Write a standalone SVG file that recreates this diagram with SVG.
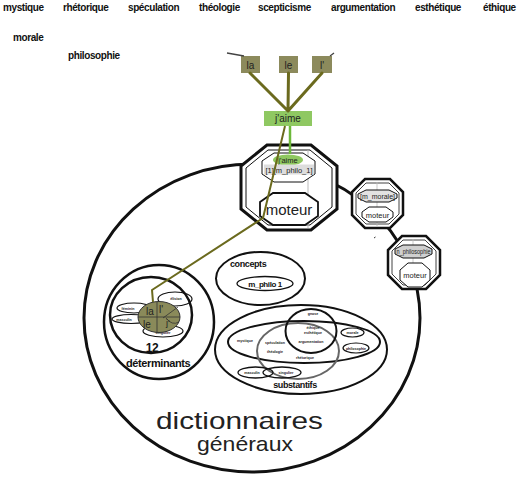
<svg xmlns="http://www.w3.org/2000/svg" width="520" height="479" viewBox="0 0 520 479">
<style>
.b{font-family:"Liberation Sans",Arial,sans-serif;font-weight:bold;letter-spacing:-0.4px;fill:#111}
.r{font-family:"Liberation Sans",Arial,sans-serif;fill:#222}
.t{font-family:"Liberation Sans",Arial,sans-serif;font-weight:bold;font-size:3.6px;fill:#222;text-anchor:middle}
.k{fill:none;stroke:#111}
.w{fill:#fff;stroke:#111}
.ol{fill:none;stroke:#6b6a1e;stroke-width:3;stroke-linecap:round;stroke-linejoin:round}
.box{fill:#8c8a5c}
</style>
<rect width="520" height="479" fill="#fff"/>
<g id="top-words" class="b" font-size="10">
<text x="3" y="11">mystique</text>
<text x="63" y="11">rhétorique</text>
<text x="128" y="11">spéculation</text>
<text x="199" y="11">théologie</text>
<text x="258" y="11">scepticisme</text>
<text x="331" y="11">argumentation</text>
<text x="415" y="11">esthétique</text>
<text x="483" y="11">éthique</text>
<text x="13" y="41">morale</text>
<text x="68" y="59">philosophie</text>
</g>
<g id="dictionnaires">
<ellipse cx="252" cy="318" rx="168" ry="154" class="k" stroke-width="3"/>
<text x="156" y="429" class="r" font-size="24" fill="#111" textLength="167" lengthAdjust="spacingAndGlyphs">dictionnaires</text>
<text x="245" y="451" class="r" font-size="21" fill="#111" text-anchor="middle" textLength="96" lengthAdjust="spacingAndGlyphs">généraux</text>
</g>
<g id="determinants">
<ellipse cx="159" cy="322" rx="55" ry="57" class="k" stroke-width="2.5"/>
<ellipse cx="151" cy="315" rx="41" ry="38" class="k" stroke-width="2.5"/>
<ellipse cx="175" cy="299" rx="17" ry="7" class="k" stroke-width="1.2"/>
<ellipse cx="134" cy="308" rx="17" ry="5" class="k" stroke-width="1.2"/>
<ellipse cx="131" cy="319" rx="19" ry="4.5" class="k" stroke-width="1.2"/>
<ellipse cx="163" cy="331" rx="20" ry="6" class="k" stroke-width="1.2"/>
<text x="176" y="299.5" class="t">élision</text>
<text x="128" y="309.5" class="t">féminin</text>
<text x="124" y="320.5" class="t">masculin</text>
<text x="163" y="334" class="t">singulier</text>
<ellipse cx="159" cy="317" rx="21" ry="15.5" fill="#8a8a5a" stroke="#333" stroke-width="1"/>
<path d="M157,302 V333 M138,317 H180 M163,318 L178,307 M166,318 Q172,326 179,322" fill="none" stroke="#333" stroke-width="0.8"/>
<text x="146" y="315" class="r" font-size="10" fill="#222">la</text>
<text x="159" y="313" class="r" font-size="10" fill="#222">l'</text>
<text x="143" y="328" class="r" font-size="10" fill="#222">le</text>
<text x="166" y="326" class="r" font-size="9" fill="#222">j'</text>
<text x="152" y="352" class="b" font-size="12" text-anchor="middle">12</text>
<text x="126" y="367" class="b" font-size="11">déterminants</text>
</g>
<g id="concepts">
<ellipse cx="260.5" cy="278.5" rx="44.5" ry="26.5" class="k" stroke-width="2"/>
<text x="230" y="267" class="b" font-size="9">concepts</text>
<ellipse cx="265" cy="283.5" rx="28" ry="7" class="k" stroke-width="1.3"/>
<text x="265" y="286.5" class="b" font-size="8" text-anchor="middle" letter-spacing="-0.3">m_philo 1</text>
</g>
<g id="substantifs">
<ellipse cx="301" cy="349.5" rx="86" ry="44.5" class="k" stroke-width="2"/>
<ellipse cx="304" cy="342" rx="76" ry="21" class="k" stroke-width="2"/>
<ellipse cx="298" cy="351" rx="41" ry="28" fill="none" stroke="#666" stroke-width="2"/>
<ellipse cx="311" cy="331" rx="25.5" ry="22" class="k" stroke-width="2"/>
<ellipse cx="352.5" cy="332.5" rx="11.5" ry="4.5" class="k" stroke-width="1.2"/>
<ellipse cx="356" cy="348" rx="13" ry="5" class="k" stroke-width="1.2"/>
<ellipse cx="255.5" cy="372.5" rx="17.5" ry="5.5" class="k" stroke-width="1.3"/>
<ellipse cx="282" cy="372.5" rx="19" ry="5.5" class="k" stroke-width="1.3"/>
<text x="313" y="315" class="t">gnose</text>
<text x="313" y="328.5" class="t">éthique</text>
<text x="313" y="333.5" class="t">esthétique</text>
<text x="311" y="343" class="t">argumentation</text>
<text x="275" y="344" class="t">spéculation</text>
<text x="275" y="353" class="t">théologie</text>
<text x="305" y="359" class="t">rhétorique</text>
<text x="245" y="342" class="t">mystique</text>
<text x="352.5" y="334" class="t">morale</text>
<text x="356" y="349.5" class="t">philosophie</text>
<text x="252" y="374" class="t">masculin</text>
<text x="286" y="374" class="t">singulier</text>
<text x="295" y="388" class="b" font-size="9" text-anchor="middle">substantifs</text>
</g>
<g id="moteur-main">
<polygon points="267,145 311,145 337,166 337,209 311,230 267,230 241,209 241,166" class="w" stroke-width="3"/>
<polygon points="268,150 310,150 332,168 332,207 310,225 268,225 246,207 246,168" class="k" stroke-width="1"/>
<line x1="308" y1="150" x2="308" y2="228" stroke="#bbb" stroke-width="1"/>
<polygon points="274,153 303,153 315,161 315,174 303,182 274,182 262,174 262,161" class="w" stroke-width="1"/>
<ellipse cx="288" cy="160" rx="15" ry="5.5" fill="#8fc860"/>
<text x="288" y="162.5" class="r" font-size="7.5" text-anchor="middle" fill="#333">j'aime</text>
<rect x="264" y="164.5" width="50" height="10" fill="#ddd"/>
<text x="289" y="172.5" class="r" font-size="7.5" text-anchor="middle" fill="#333">[1][m_philo_1]</text>
<polygon points="273,193 305,193 318,202 318,216 305,225 273,225 260,216 260,202" class="w" stroke-width="1.8"/>
<text x="289" y="215" class="r" font-size="15" text-anchor="middle" fill="#111">moteur</text>
</g>
<g id="moteur-morale">
<polygon points="365,179 390,179 403,192 403,215 390,228 365,228 352,215 352,192" class="w" stroke-width="2.5"/>
<polygon points="366,183 389,183 399,193 399,214 389,224 366,224 356,214 356,193" class="k" stroke-width="0.8"/>
<line x1="377" y1="182" x2="377" y2="226" stroke="#bbb" stroke-width="0.8"/>
<polygon points="366,190 389,190 397,194 397,198 389,202 366,202 358,198 358,194" fill="#e2e2e2" stroke="#111" stroke-width="1"/>
<text x="377.5" y="198.5" class="r" font-size="7" text-anchor="middle" fill="#333">[m_morale]</text>
<polygon points="369,207 386,207 393,212 393,217 386,222 369,222 362,217 362,212" class="w" stroke-width="1"/>
<text x="377.5" y="217.5" class="r" font-size="7.5" text-anchor="middle" fill="#333">moteur</text>
</g>
<g id="moteur-philosophie">
<polygon points="402,236 426,236 440,250 440,275 426,289 402,289 388,275 388,250" class="w" stroke-width="2.5"/>
<polygon points="403,240 425,240 436,251 436,274 425,285 403,285 392,274 392,251" class="k" stroke-width="0.8"/>
<line x1="413" y1="239" x2="413" y2="287" stroke="#bbb" stroke-width="0.8"/>
<polygon points="403,245 424,245 432,249 432,254 424,258 403,258 395,254 395,249" fill="#d0d0d0" stroke="#111" stroke-width="1"/>
<text x="413.5" y="254" class="r" font-size="6.5" text-anchor="middle" fill="#333" textLength="34" lengthAdjust="spacingAndGlyphs">n_philosophie</text>
<polygon points="408,263 422,263 430,270 430,280 422,287 408,287 400,280 400,270" class="w" stroke-width="1"/>
<text x="415" y="278" class="r" font-size="7.5" text-anchor="middle" fill="#333">moteur</text>
</g>
<path d="M374,238 l1.5,-1" stroke="#333" stroke-width="1"/>
<g id="box-la"><rect x="241" y="56" width="19" height="17" class="box"/><text x="250.5" y="68.5" class="r" font-size="10" text-anchor="middle" fill="#333">la</text></g>
<g id="box-le"><rect x="279" y="56" width="19" height="17" class="box"/><text x="288.5" y="68.5" class="r" font-size="10" text-anchor="middle" fill="#333">le</text></g>
<g id="box-l"><rect x="312" y="56" width="20" height="17" class="box"/><text x="322" y="68.5" class="r" font-size="10" text-anchor="middle" fill="#333">l'</text></g>
<g id="jaime"><rect x="264" y="111" width="48" height="15" fill="#8fc862"/><text x="288" y="122" class="r" font-size="10" text-anchor="middle" fill="#333">j'aime</text></g>
<g id="connectors">
<path d="M227,53 L244,56 M330,56 L334,53" stroke="#444" stroke-width="1.3" fill="none"/>
<path d="M250,73 L288,111 M288.5,73 L288,111 M322,73 L288,111" class="ol"/>
<path d="M290,126 V154" fill="none" stroke="#6cb83a" stroke-width="2.5"/>
<path d="M285,126 L263,218 L152,290 L153,302" fill="none" stroke="#6b6a1e" stroke-width="2" stroke-linejoin="round"/>
</g>
</svg>
